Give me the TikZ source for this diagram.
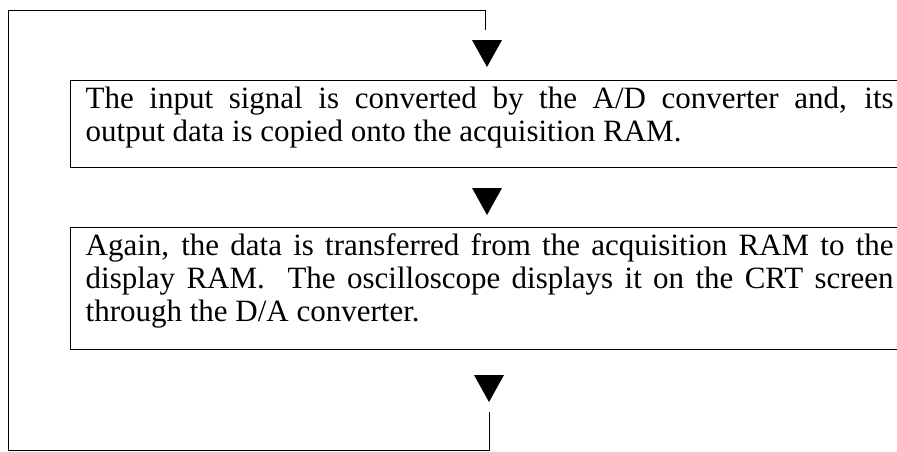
\documentclass[tikz,border=0pt]{standalone}
\usepackage{fontspec}
\setmainfont{Liberation Serif}

\begin{document}
\begin{tikzpicture}[x=1pt,y=-1pt,
    stepbox/.style={draw,line width=1.3pt,anchor=north west,
      text width=808pt,inner xsep=15pt,inner ysep=6pt,align=justify,
      font=\fontsize{31}{33}\selectfont},
    loopline/.style={line width=1pt}]
  \useasboundingbox (0,0) rectangle (897,451);
  \node[stepbox] (convert) at (70,80)
    {\rule{0pt}{21pt}The input signal is converted by the A/D converter and, its\linebreak
     output data is copied onto the acquisition RAM.\rule[-20pt]{0pt}{0pt}};
  \node[stepbox] (display) at (70,227)
    {\rule{0pt}{21pt}Again, the data is transferred from the acquisition RAM to the\linebreak
     display RAM.\ \ The oscilloscope displays it on the CRT screen\linebreak
     through the D/A converter.\rule[-22pt]{0pt}{0pt}};
  % down triangles
  \coordinate (tipA) at (487,67);
  \coordinate (tipB) at (487,215);
  \coordinate (tipC) at (489,402);
  \foreach \t in {tipA,tipB,tipC}
    \fill (\t) -- ++(-15,-27) -- ++(30,0) -- cycle;
  % return loop
  \coordinate (loopin) at (485,30);
  \coordinate (loopout) at (489,412);
  \draw[loopline] (loopout) -- ++(0,38) -| (8,10) -| (loopin);
\end{tikzpicture}
\end{document}
